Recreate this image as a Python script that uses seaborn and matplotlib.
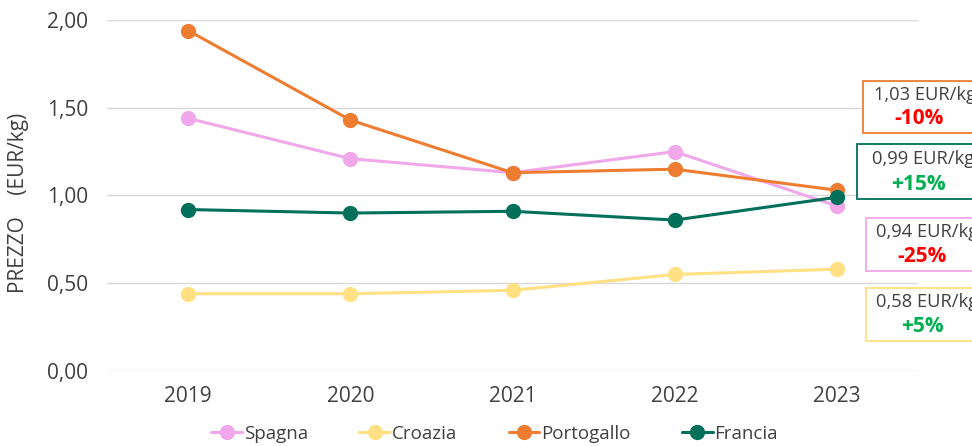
import matplotlib
matplotlib.use("Agg")
import matplotlib.pyplot as plt
import matplotlib.patches as mpatches
import seaborn as sns
import pandas as pd

years = ["2019", "2020", "2021", "2022", "2023"]
spagna = [1.44, 1.21, 1.13, 1.25, 0.94]
croazia = [0.44, 0.44, 0.46, 0.55, 0.58]
portogallo = [1.94, 1.43, 1.13, 1.15, 1.03]
francia = [0.92, 0.90, 0.91, 0.86, 0.99]

series_names = ["Spagna", "Croazia", "Portogallo", "Francia"]
series_values = [spagna, croazia, portogallo, francia]
colors = ["#F0A8EA", "#FFE082", "#EE7D31", "#00705B"]

# annotation boxes: last price label and change vs previous year
box_prices = ["1,03 EUR/kg", "0,99 EUR/kg", "0,94 EUR/kg", "0,58 EUR/kg"]
box_changes = ["-10%", "+15%", "-25%", "+5%"]
box_change_colors = ["#FF0000", "#00B050", "#FF0000", "#00B050"]
box_edge_colors = ["#EE7D31", "#00705B", "#F0A8EA", "#FFE082"]

rows = []
for name, vals in zip(series_names, series_values):
    for i, v in enumerate(vals):
        rows.append({"idx": i, "anno": years[i], "serie": name, "prezzo": v})
df = pd.DataFrame(rows)

sns.set_theme(style="white")
plt.rcParams["font.family"] = ["Open Sans", "DejaVu Sans"]
text_color = "#404040"

W, H = 972, 446
fig = plt.figure(figsize=(W / 100, H / 100), dpi=100)
ax = fig.add_axes([107 / W, 1 - 371 / H, (918 - 107) / W, (371 - 20) / H])

sns.lineplot(data=df, x="idx", y="prezzo", hue="serie", hue_order=series_names,
             palette=colors, marker="o", markersize=11, markeredgewidth=0,
             linewidth=2.2, ax=ax, legend=False, zorder=3)

ax.set_xlim(-0.5, 4.5)
ax.set_ylim(0, 2.0)
ax.set_xticks(range(len(years)))
ax.set_xticklabels(years)
yt = [0, 0.5, 1.0, 1.5, 2.0]
ax.set_yticks(yt)
ax.set_yticklabels([f"{v:.2f}".replace(".", ",") for v in yt])
ax.tick_params(axis="both", length=0, labelsize=15, labelcolor=text_color)
ax.tick_params(axis="x", pad=11)
ax.tick_params(axis="y", pad=13.5)
ax.grid(axis="y", color="#D9D9D9", linewidth=1)
ax.set_axisbelow(True)
for s in ax.spines.values():
    s.set_visible(False)
ax.set_xlabel("")
ax.set_ylabel("PREZZO    (EUR/kg)", fontsize=15, color=text_color)
ax.yaxis.set_label_coords((29 - 107) / 811, (371 - 203) / 351)

# legend
handles = [plt.Line2D([], [], color=c, marker="o", markersize=11, markeredgewidth=0,
                      linewidth=2.2) for c in colors]
fig.legend(handles, series_names, loc="center", bbox_to_anchor=(494.5 / W, 12 / H),
           ncol=4, frameon=False, fontsize=13.5, handlelength=1.65, handletextpad=0.08,
           columnspacing=2.75, labelcolor=text_color, borderpad=0)

# annotation boxes (pixel layout), running off the right edge of the figure
boxes = [(863, 81, 133, 874, 95, 919, 119),
         (857, 144, 199, 872, 159, 918, 184),
         (866, 218, 271, 876, 232, 922, 256),
         (866, 288, 341, 876, 302, 922, 326)]
for (x0, yt_, yb, tx, ty, cx, cy), p, ch, cc, ec in zip(
        boxes, box_prices, box_changes, box_change_colors, box_edge_colors):
    rect = mpatches.Rectangle((x0 / W, 1 - yb / H), 200 / W, (yb - yt_) / H,
                              transform=fig.transFigure, fill=True, facecolor="white",
                              edgecolor=ec, linewidth=1.3)
    fig.patches.append(rect)
    fig.text(tx / W, 1 - ty / H, p, ha="left", va="center", fontsize=13.2,
             color=text_color)
    fig.text(cx / W, 1 - cy / H, ch, ha="center", va="center", fontsize=15,
             fontweight="bold", color=cc)

fig.savefig("out.png", dpi=100)
